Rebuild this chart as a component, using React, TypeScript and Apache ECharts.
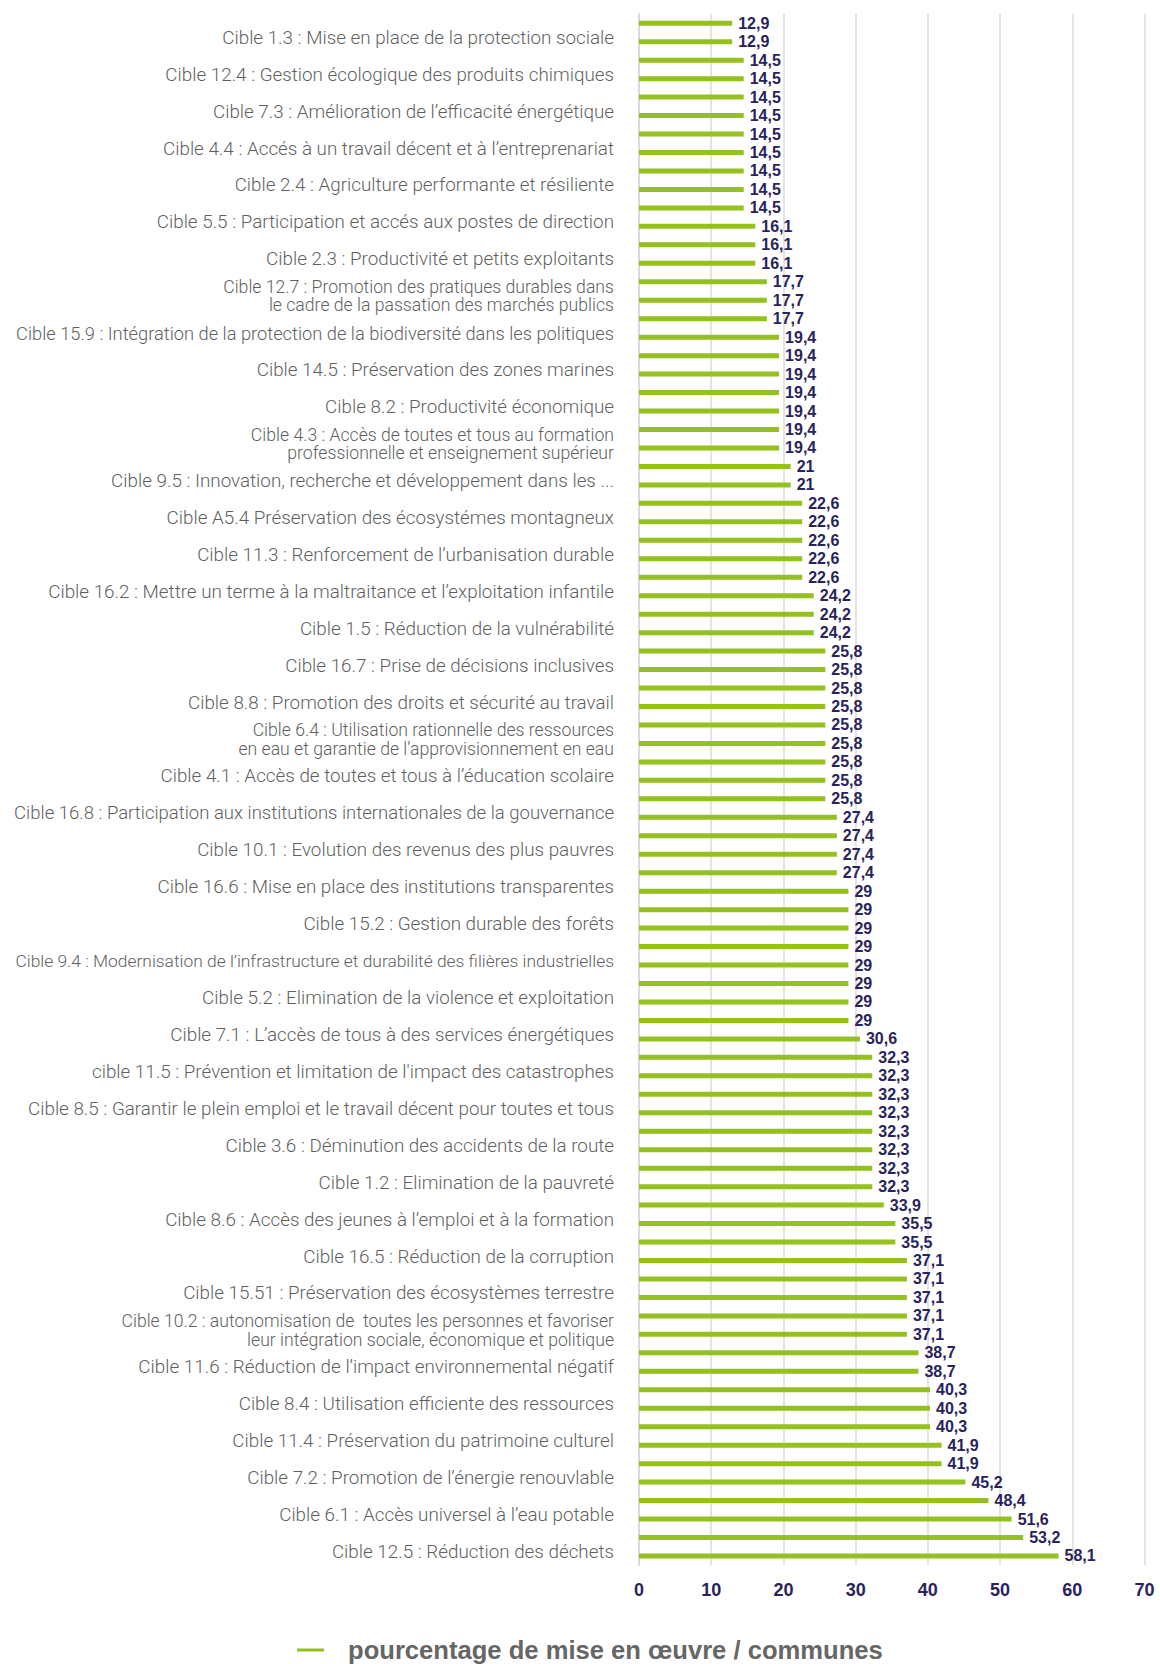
import React, { useEffect, useRef } from 'react';
import * as echarts from 'echarts';

const targetLabels: string[] = [
  'Cible 1.3 : Mise en place de la protection sociale',
  'Cible 12.4 : Gestion écologique des produits chimiques',
  'Cible 7.3 : Amélioration de l’efficacité énergétique',
  'Cible 4.4 : Accés à un travail décent et à l’entreprenariat',
  'Cible 2.4 : Agriculture performante et résiliente',
  'Cible 5.5 : Participation et accés aux postes de direction',
  'Cible 2.3 : Productivité et petits exploitants',
  'Cible 12.7 : Promotion des pratiques durables dans\nle cadre de la passation des marchés publics',
  'Cible 15.9 : Intégration de la protection de la biodiversité dans les politiques',
  'Cible 14.5 : Préservation des zones marines',
  'Cible 8.2 : Productivité économique',
  'Cible 4.3 : Accès de toutes et tous au formation\nprofessionnelle et enseignement supérieur',
  'Cible 9.5 : Innovation, recherche et développement dans les ...',
  'Cible A5.4 Préservation des écosystémes montagneux',
  'Cible 11.3 : Renforcement de l’urbanisation durable',
  'Cible 16.2 : Mettre un terme à la maltraitance et l’exploitation infantile',
  'Cible 1.5 : Réduction de la vulnérabilité',
  'Cible 16.7 : Prise de décisions inclusives',
  'Cible 8.8 : Promotion des droits et sécurité au travail',
  'Cible 6.4 : Utilisation rationnelle des ressources\nen eau et garantie de l’approvisionnement en eau',
  'Cible 4.1 : Accès de toutes et tous à l’éducation scolaire',
  'Cible 16.8 : Participation aux institutions internationales de la gouvernance',
  'Cible 10.1 : Evolution des revenus des plus pauvres',
  'Cible 16.6 : Mise en place des institutions transparentes',
  'Cible 15.2 : Gestion durable des forêts',
  'Cible 9.4 : Modernisation de l’infrastructure et durabilité des filières industrielles',
  'Cible 5.2 : Elimination de la violence et exploitation',
  'Cible 7.1 : L’accès de tous à des services énergétiques',
  "cible 11.5 : Prévention et limitation de l'impact des catastrophes",
  'Cible 8.5 : Garantir le plein emploi et le travail décent pour toutes et tous',
  'Cible 3.6 : Déminution des accidents de la route',
  'Cible 1.2 : Elimination de la pauvreté',
  'Cible 8.6 : Accès des jeunes à l’emploi et à la formation',
  'Cible 16.5 : Réduction de la corruption',
  'Cible 15.51 : Préservation des écosystèmes terrestre',
  'Cible 10.2 : autonomisation de  toutes les personnes et favoriser\nleur intégration sociale, économique et politique',
  'Cible 11.6 : Réduction de l’impact environnemental négatif',
  'Cible 8.4 : Utilisation efficiente des ressources',
  'Cible 11.4 : Préservation du patrimoine culturel',
  'Cible 7.2 : Promotion de l’énergie renouvlable',
  'Cible 6.1 : Accès universel à l’eau potable',
  'Cible 12.5 : Réduction des déchets',
];

const values: number[] = [
  12.9, 12.9,
  14.5, 14.5, 14.5, 14.5, 14.5, 14.5, 14.5, 14.5, 14.5,
  16.1, 16.1, 16.1,
  17.7, 17.7, 17.7,
  19.4, 19.4, 19.4, 19.4, 19.4, 19.4, 19.4,
  21, 21,
  22.6, 22.6, 22.6, 22.6, 22.6,
  24.2, 24.2, 24.2,
  25.8, 25.8, 25.8, 25.8, 25.8, 25.8, 25.8, 25.8, 25.8,
  27.4, 27.4, 27.4, 27.4,
  29, 29, 29, 29, 29, 29, 29, 29,
  30.6,
  32.3, 32.3, 32.3, 32.3, 32.3, 32.3, 32.3, 32.3,
  33.9,
  35.5, 35.5,
  37.1, 37.1, 37.1, 37.1, 37.1,
  38.7, 38.7,
  40.3, 40.3, 40.3,
  41.9, 41.9,
  45.2, 48.4, 51.6, 53.2, 58.1,
];

const xMin = 0;
const xMax = 70;
const xStep = 10;
const seriesName = 'pourcentage de mise en œuvre / communes';

// one category per bar; every other bar carries a target label
const categories: string[] = values.map((_, i) => (i % 2 === 1 ? targetLabels[(i - 1) / 2] : ''));

const LABEL_FONT = "Roboto, 'Liberation Sans', Arial, sans-serif";
const SANS = "'Liberation Sans', Arial, sans-serif";
const NAVY = '#29235C';
const GREEN = '#95C11F';

function buildRich() {
  const canvas = document.createElement('canvas');
  const ctx = canvas.getContext('2d') as CanvasRenderingContext2D;
  const measure = (t: string, size: number) => {
    ctx.font = `300 ${size}px ${LABEL_FONT}`;
    return ctx.measureText(t).width;
  };
  // calibrate sizes on two reference label widths
  const singleBase = Math.min(20, (100 * 392) / measure(targetLabels[0], 100));
  const multiBase = Math.min(18, (100 * 391) / measure(targetLabels[7].split('\n')[0], 100));
  const maxW = 600;
  const rich: Record<string, any> = {};
  targetLabels.forEach((lab, i) => {
    const lines = lab.split('\n');
    const multi = lines.length > 1;
    const base = multi ? multiBase : singleBase;
    const w = Math.max(...lines.map((l) => measure(l, base)));
    const size = w > maxW ? Math.floor(((base * maxW) / w) * 10) / 10 : base;
    rich['t' + i] = {
      fontFamily: LABEL_FONT,
      fontWeight: 300,
      fontSize: size,
      lineHeight: multi ? 18.5 : 22,
      color: '#5f5f5f',
      align: 'right',
    };
  });
  return rich;
}

export default function App() {
  const ref = useRef<HTMLDivElement>(null);
  useEffect(() => {
    document.body.style.margin = '0';
    const chart = echarts.init(ref.current as HTMLDivElement, null, { renderer: 'svg' });
    const rich = buildRich();
    chart.setOption({
      animation: false,
      backgroundColor: '#ffffff',
      grid: { left: 639, right: 15.5, top: 14, bottom: 98.8, containLabel: false },
      legend: {
        show: true,
        data: [seriesName],
        left: 292,
        top: 1632,
        icon: 'rect',
        itemWidth: 27,
        itemHeight: 3,
        textStyle: {
          fontFamily: SANS,
          fontWeight: 'bold',
          fontSize: 25.6,
          color: '#666666',
          padding: [0, 0, 0, 19],
        },
      },
      xAxis: {
        type: 'value',
        min: xMin,
        max: xMax,
        interval: xStep,
        axisLine: { show: false },
        axisTick: { show: false },
        splitLine: { show: true, lineStyle: { color: '#E4E4E4', width: 2 } },
        axisLabel: {
          margin: 16,
          fontFamily: SANS,
          fontWeight: 'bold',
          fontSize: 18,
          color: NAVY,
        },
      },
      yAxis: {
        type: 'category',
        inverse: true,
        data: categories,
        axisLine: { show: true, lineStyle: { color: '#DADADA', width: 2 } },
        axisTick: { show: false },
        axisLabel: {
          interval: (index: number) => index % 2 === 1,
          margin: 25,
          padding: [0, 0, 8, 0],
          rich,
          formatter: (value: string, index: number) => {
            if (!value) return '';
            const li = (index - 1) / 2;
            return value
              .split('\n')
              .map((l) => `{t${li}|${l}}`)
              .join('\n');
          },
        },
      },
      series: [
        {
          name: seriesName,
          type: 'bar',
          data: values,
          barWidth: 5,
          itemStyle: { color: GREEN },
          label: {
            show: true,
            position: 'right',
            distance: 6,
            fontFamily: SANS,
            fontWeight: 'bold',
            fontSize: 16,
            color: NAVY,
            formatter: (p: any) => String(p.value).replace('.', ','),
          },
        },
      ],
    });
    return () => chart.dispose();
  }, []);
  return (
    <div
      ref={ref}
      style={{ position: 'absolute', left: 0, top: 0, width: 1160, height: 1664, background: '#fff' }}
    />
  );
}
